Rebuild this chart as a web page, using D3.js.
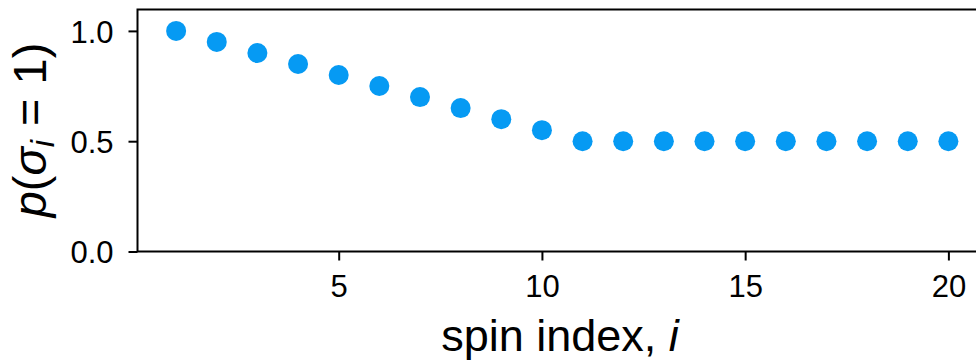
<!DOCTYPE html>
<html>
<head>
<meta charset="utf-8">
<script src="https://cdn.jsdelivr.net/npm/d3@7"></script>
<style>
  html, body { margin: 0; padding: 0; background: #fff; }
  svg { display: block; font-family: "Liberation Sans", Arial, Helvetica, sans-serif; }
</style>
</head>
<body>
<svg id="chart" width="976" height="364"></svg>
<script>
// Spin indices and probability that each spin is up
const spinIndex = [1, 2, 3, 4, 5, 6, 7, 8, 9, 10, 11, 12, 13, 14, 15, 16, 17, 18, 19, 20];
const probUp = [1.0, 0.95, 0.9, 0.85, 0.8, 0.75, 0.7, 0.65, 0.6, 0.55,
                0.5, 0.5, 0.5, 0.5, 0.5, 0.5, 0.5, 0.5, 0.5, 0.5];
const xTicks = [5, 10, 15, 20];
const yTicks = [0.0, 0.5, 1.0];

const svg = d3.select("#chart");
const margin = { left: 137.5, top: 9.5, bottom: 251.5, right: 987 };

const x = d3.scaleLinear().domain([0.05, 20.95]).range([margin.left, margin.right]);
const y = d3.scaleLinear().domain([0, 1.097]).range([margin.bottom, margin.top]);

// Frame
svg.append("rect")
  .attr("x", margin.left).attr("y", margin.top)
  .attr("width", margin.right - margin.left)
  .attr("height", margin.bottom - margin.top)
  .attr("fill", "none").attr("stroke", "#000").attr("stroke-width", 2);

// Axes
const xAxis = svg.append("g")
  .attr("transform", `translate(0,${margin.bottom})`)
  .call(d3.axisBottom(x).tickValues(xTicks).tickFormat(d3.format("d")).tickSize(9).tickPadding(14));
const yAxis = svg.append("g")
  .attr("transform", `translate(${margin.left},0)`)
  .call(d3.axisLeft(y).tickValues(yTicks).tickFormat(d3.format(".1f")).tickSize(9).tickPadding(15));

[xAxis, yAxis].forEach(g => {
  g.select(".domain").remove();
  g.selectAll(".tick line").attr("stroke", "#000").attr("stroke-width", 2);
  g.selectAll(".tick text")
    .attr("fill", "#000")
    .style("font-size", "31px")
    .style("font-family", "'Liberation Sans', Arial, sans-serif");
});
yAxis.selectAll(".tick text").attr("dy", "0.36em");

// Points
svg.append("g")
  .selectAll("circle")
  .data(spinIndex.map((s, i) => ({ s, p: probUp[i] })))
  .join("circle")
  .attr("cx", d => x(d.s))
  .attr("cy", d => y(d.p))
  .attr("r", 10)
  .attr("fill", "#069af3");

// X label
const xl = svg.append("text")
  .attr("x", 560)
  .attr("y", 351)
  .attr("text-anchor", "middle")
  .style("font-size", "45px")
  .attr("fill", "#000");
xl.append("tspan").text("spin index, ");
xl.append("tspan").attr("font-style", "italic").text("i");

// Y label: p(σ_i = 1)
const yl = svg.append("text")
  .attr("transform", `translate(46,130) rotate(-90)`)
  .attr("text-anchor", "middle")
  .style("font-size", "47px")
  .attr("fill", "#000");
yl.append("tspan").attr("font-style", "italic").text("p");
yl.append("tspan").text("(");
yl.append("tspan").attr("font-style", "italic").text("σ");
yl.append("tspan").attr("font-style", "italic").attr("dy", 8).style("font-size", "33px").text("i");
yl.append("tspan").attr("dy", -8).attr("dx", 14).text("=");
yl.append("tspan").attr("dx", 14).text("1)");
</script>
</body>
</html>
